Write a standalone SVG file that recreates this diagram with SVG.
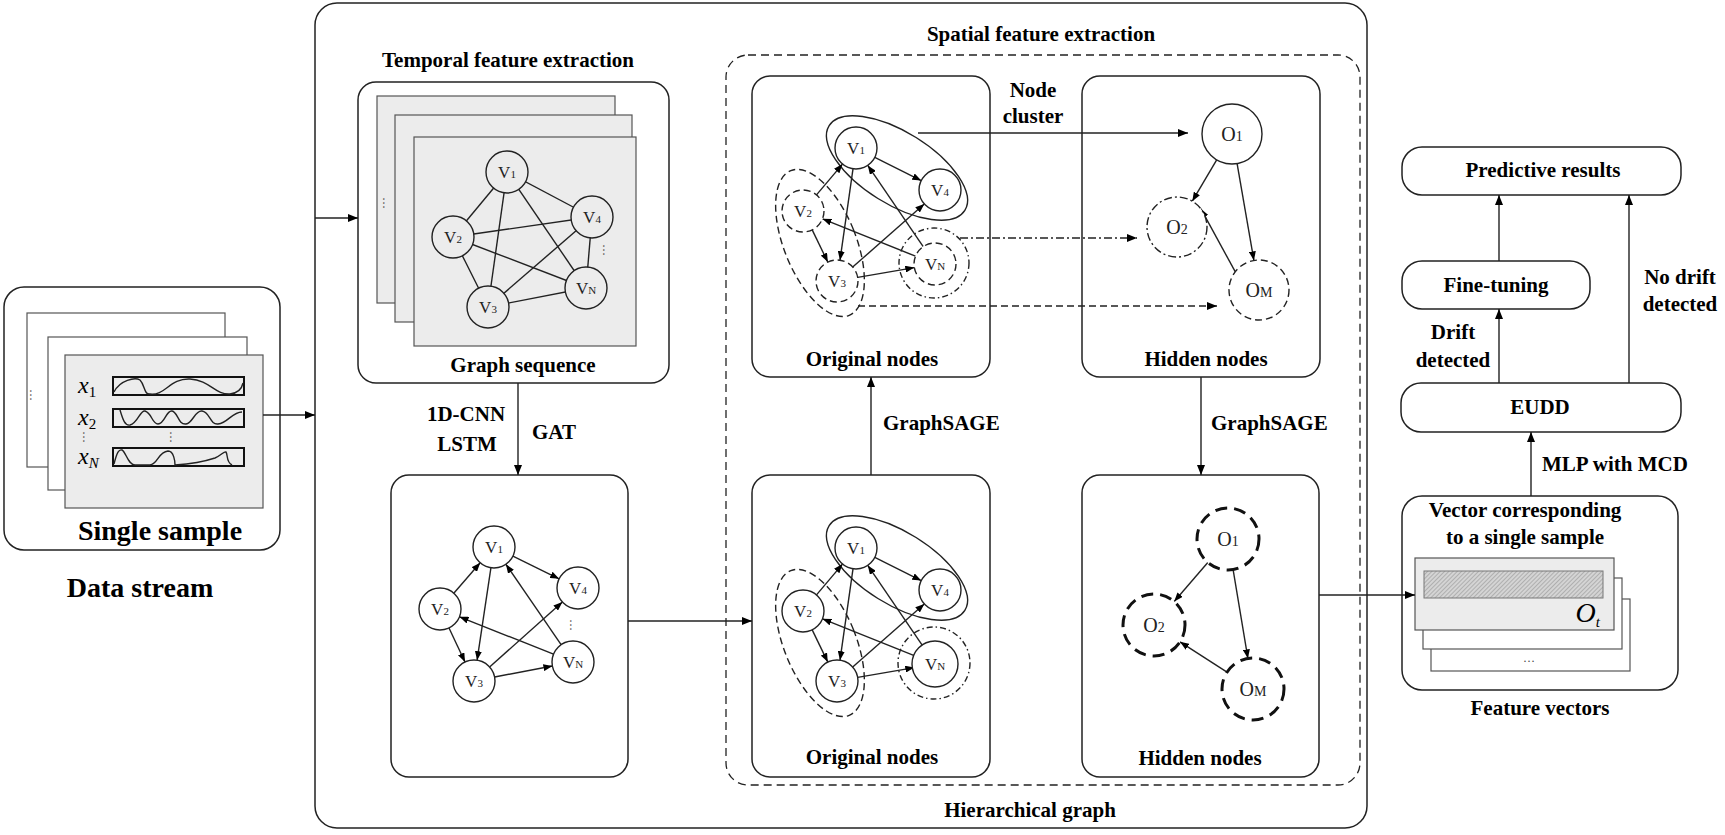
<svg xmlns="http://www.w3.org/2000/svg" width="1725" height="835" viewBox="0 0 1725 835">
<defs>
<marker id="ah" markerUnits="userSpaceOnUse" markerWidth="10" markerHeight="8" refX="10" refY="4" orient="auto"><path d="M0,0 L10,4 L0,8 z" fill="#000"/></marker>
<marker id="as" markerUnits="userSpaceOnUse" markerWidth="9" markerHeight="7" refX="9" refY="3.5" orient="auto"><path d="M0,0 L9,3.5 L0,7 z" fill="#000"/></marker>
<pattern id="hatch" patternUnits="userSpaceOnUse" width="3" height="3" patternTransform="rotate(45)"><rect width="3" height="3" fill="#d4d4d4"/><line x1="0" y1="0" x2="0" y2="3" stroke="#8a8a8a" stroke-width="1"/></pattern>
</defs>
<style>
.box{fill:#fff;stroke:#222;stroke-width:1.5}
.sheet{fill:#ececec;stroke:#555;stroke-width:1.2}
.wsheet{fill:#fff;stroke:#555;stroke-width:1.2}
.lb{font-family:"Liberation Serif",serif;font-weight:bold;font-size:21px;fill:#000;text-anchor:middle}
.ls{text-anchor:start}
.big{font-size:28px}
.nd{fill:#fff;stroke:#222;stroke-width:1.4}
.ndg{fill:#ececec;stroke:#222;stroke-width:1.4}
.nt{font-family:"Liberation Serif",serif;font-size:17px;fill:#222;text-anchor:middle}
.ot{font-size:20px}
.e{stroke:#222;stroke-width:1.4;fill:none}
.a{stroke:#222;stroke-width:1.4;fill:none;marker-end:url(#as)}
.c{stroke:#222;stroke-width:1.4;fill:none;marker-end:url(#ah)}
.dash{stroke-dasharray:7 4}
.dd{stroke-dasharray:8 3 2 3}
.xl{font-family:"Liberation Serif",serif;font-style:italic;font-size:24px;fill:#000}
.dots{font-family:"Liberation Serif",serif;font-size:12px;fill:#444;text-anchor:middle}
</style>

<g id="single-sample">
<rect class="box" x="4" y="287" width="276" height="263" rx="20"/>
<rect class="wsheet" x="27" y="313" width="198" height="154"/>
<rect class="wsheet" x="48" y="337" width="199" height="153"/>
<rect class="sheet" x="65" y="355" width="198" height="153"/>
<text class="dots" x="33" y="398" transform="rotate(90 33 395)">…</text>
<text class="xl" x="78" y="393">x<tspan font-size="15" dy="4" font-style="normal">1</tspan></text>
<text class="xl" x="78" y="425">x<tspan font-size="15" dy="4" font-style="normal">2</tspan></text>
<text class="xl" x="78" y="464">x<tspan font-size="15" dy="4" font-style="italic">N</tspan></text>
<rect x="113" y="377" width="131" height="18" fill="none" stroke="#111" stroke-width="2"/>
<rect x="113" y="409" width="131" height="18" fill="none" stroke="#111" stroke-width="2"/>
<rect x="113" y="448" width="131" height="18" fill="none" stroke="#111" stroke-width="2"/>
<path class="e" stroke-width="1" d="M114,392 C120,380 135,377 140,380 C145,385 144,395 150,394 C165,396 170,378 190,379 C210,380 215,395 230,394 C238,393 242,388 243,383"/>
<path class="e" stroke-width="1" d="M120,410 C123,420 125,426 130,425 C138,423 140,410 145,411 C152,413 152,424 158,424 C165,424 166,410 172,411 C178,412 178,425 186,424 C193,423 195,410 202,411 C210,412 210,425 218,424 C228,423 232,412 242,412"/>
<path class="e" stroke-width="1" d="M114,464 C117,452 119,449 122,450 C126,452 128,465 135,465 L150,465 C158,464 158,452 168,451 C174,451 175,462 175,465 C190,464 200,463 215,458 C222,455 224,451 226,452 C228,455 226,462 232,465"/>
<text class="dots" x="86" y="440" transform="rotate(90 86 437)">…</text>
<text class="dots" x="173" y="440" transform="rotate(90 173 437)">…</text>
<text class="lb big" x="160" y="540">Single sample</text>
</g>
<text id="data-stream" class="lb big" x="140" y="597">Data stream</text>

<g id="hierarchical">
<rect class="box" x="315" y="3" width="1052" height="825" rx="22"/>
<text class="lb" x="1030" y="817">Hierarchical graph</text>
</g>

<g id="temporal">
<text class="lb" x="508" y="67">Temporal feature extraction</text>
<rect class="box" x="358" y="82" width="311" height="301" rx="18"/>
<rect class="sheet" x="377" y="96" width="238" height="207"/>
<rect class="sheet" x="395" y="115" width="237" height="207"/>
<rect class="sheet" x="414" y="137" width="222" height="209"/>
<text class="dots" x="386" y="206" transform="rotate(90 386 203)">…</text>
<line class="e" x1="507" y1="172" x2="453" y2="237"/>
<line class="e" x1="507" y1="172" x2="592" y2="217"/>
<line class="e" x1="507" y1="172" x2="488" y2="307"/>
<line class="e" x1="507" y1="172" x2="586" y2="288"/>
<line class="e" x1="453" y1="237" x2="592" y2="217"/>
<line class="e" x1="453" y1="237" x2="586" y2="288"/>
<line class="e" x1="453" y1="237" x2="488" y2="307"/>
<line class="e" x1="488" y1="307" x2="592" y2="217"/>
<line class="e" x1="488" y1="307" x2="586" y2="288"/>
<line class="e" x1="592" y1="217" x2="586" y2="288"/>
<circle class="ndg" cx="507" cy="172" r="21"/><text class="nt" x="507" y="178">V<tspan font-size="11">1</tspan></text>
<circle class="ndg" cx="592" cy="217" r="21"/><text class="nt" x="592" y="223">V<tspan font-size="11">4</tspan></text>
<circle class="ndg" cx="453" cy="237" r="21"/><text class="nt" x="453" y="243">V<tspan font-size="11">2</tspan></text>
<circle class="ndg" cx="586" cy="288" r="21"/><text class="nt" x="586" y="294">V<tspan font-size="11">N</tspan></text>
<circle class="ndg" cx="488" cy="307" r="21"/><text class="nt" x="488" y="313">V<tspan font-size="11">3</tspan></text>
<text class="dots" x="606" y="253" transform="rotate(90 606 250)">…</text>
<text class="lb" x="523" y="372">Graph sequence</text>
</g>

<g id="gat-graph">
<rect class="box" x="391" y="475" width="237" height="302" rx="18"/>
<line class="a" x1="453.8" y1="593.2" x2="480.2" y2="562.8"/>
<line class="a" x1="512.9" y1="556.2" x2="559.1" y2="578.8"/>
<line class="a" x1="490.9" y1="567.8" x2="477.1" y2="660.2"/>
<line class="a" x1="561.1" y1="644.7" x2="505.9" y2="564.3"/>
<line class="a" x1="489.6" y1="667" x2="562.4" y2="602"/>
<line class="a" x1="553.5" y1="654.2" x2="459.5" y2="616.8"/>
<line class="a" x1="449" y1="628" x2="465" y2="662"/>
<line class="a" x1="494.6" y1="677" x2="552.4" y2="666"/>
<circle class="nd" cx="494" cy="547" r="21"/><text class="nt" x="494" y="553">V<tspan font-size="11">1</tspan></text>
<circle class="nd" cx="578" cy="588" r="21"/><text class="nt" x="578" y="594">V<tspan font-size="11">4</tspan></text>
<circle class="nd" cx="440" cy="609" r="21"/><text class="nt" x="440" y="615">V<tspan font-size="11">2</tspan></text>
<circle class="nd" cx="573" cy="662" r="21"/><text class="nt" x="573" y="668">V<tspan font-size="11">N</tspan></text>
<circle class="nd" cx="474" cy="681" r="21"/><text class="nt" x="474" y="687">V<tspan font-size="11">3</tspan></text>
<text class="dots" x="573" y="628" transform="rotate(90 573 625)">…</text>
</g>

<g id="spatial">
<rect x="726" y="55" width="634" height="730" rx="22" fill="none" stroke="#222" stroke-width="1.3" stroke-dasharray="8 5"/>
<text class="lb" x="1041" y="41">Spatial feature extraction</text>
</g>

<g id="orig-top">
<rect class="box" x="752" y="76" width="238" height="301" rx="18"/>
<ellipse class="e" cx="897" cy="168" rx="80" ry="36" transform="rotate(32 897 168)"/>
<ellipse class="e dash" cx="820" cy="243" rx="36" ry="78" transform="rotate(-22 820 243)"/>
<circle class="e" cx="934" cy="263" r="35" stroke="#666" stroke-dasharray="6 3 1.5 3"/>
<line class="a" x1="816.5" y1="194.9" x2="842.5" y2="164.1"/>
<line class="a" x1="874.8" y1="157.4" x2="921.2" y2="180.6"/>
<line class="a" x1="853" y1="168.8" x2="840" y2="260.2"/>
<line class="a" x1="923.2" y1="246.6" x2="867.8" y2="165.4"/>
<line class="a" x1="852.7" y1="267.1" x2="924.3" y2="203.9"/>
<line class="a" x1="915.5" y1="256.2" x2="822.5" y2="218.8"/>
<line class="a" x1="812.2" y1="229.9" x2="827.8" y2="262.1"/>
<line class="a" x1="857.7" y1="277.4" x2="914.3" y2="267.6"/>
<circle class="nd" cx="856" cy="148" r="21"/><text class="nt" x="856" y="154">V<tspan font-size="11">1</tspan></text>
<circle class="nd" cx="940" cy="190" r="21"/><text class="nt" x="940" y="196">V<tspan font-size="11">4</tspan></text>
<circle class="nd dash" cx="803" cy="211" r="21"/><text class="nt" x="803" y="217">V<tspan font-size="11">2</tspan></text>
<circle class="nd dash" cx="935" cy="264" r="21"/><text class="nt" x="935" y="270">V<tspan font-size="11">N</tspan></text>
<circle class="nd dash" cx="837" cy="281" r="21"/><text class="nt" x="837" y="287">V<tspan font-size="11">3</tspan></text>
<text class="lb" x="872" y="366">Original nodes</text>
</g>

<g id="hidden-top">
<rect class="box" x="1082" y="76" width="238" height="301" rx="18"/>
<line class="a" x1="1216.7" y1="159.8" x2="1192.3" y2="201.2"/>
<line class="a" x1="1237.1" y1="163.6" x2="1253.9" y2="260.4"/>
<line class="a" x1="1235.2" y1="271.7" x2="1200.8" y2="208.7"/>
<circle class="nd" cx="1232" cy="134" r="30"/><text class="nt ot" x="1232" y="141">O<tspan font-size="14">1</tspan></text>
<circle class="nd dd" cx="1177" cy="227" r="30" stroke="#444"/><text class="nt ot" x="1177" y="234">O<tspan font-size="14">2</tspan></text>
<circle class="nd dash" cx="1259" cy="290" r="30"/><text class="nt ot" x="1259" y="297">O<tspan font-size="14">M</tspan></text>
<text class="lb" x="1206" y="366">Hidden nodes</text>
</g>

<g id="orig-bottom">
<rect class="box" x="752" y="475" width="238" height="302" rx="18"/>
<ellipse class="e" cx="897" cy="568" rx="80" ry="36" transform="rotate(32 897 568)"/>
<ellipse class="e dash" cx="820" cy="643" rx="36" ry="78" transform="rotate(-22 820 643)"/>
<circle class="e" cx="934" cy="663" r="36" stroke="#666" stroke-dasharray="6 3 1.5 3"/>
<line class="a" x1="816.5" y1="594.9" x2="842.5" y2="564.1"/>
<line class="a" x1="874.8" y1="557.4" x2="921.2" y2="580.6"/>
<line class="a" x1="853" y1="568.8" x2="840" y2="660.2"/>
<line class="a" x1="923.2" y1="646.6" x2="867.8" y2="565.4"/>
<line class="a" x1="852.7" y1="667.1" x2="924.3" y2="603.9"/>
<line class="a" x1="915.5" y1="656.2" x2="822.5" y2="618.8"/>
<line class="a" x1="812.2" y1="629.9" x2="827.8" y2="662.1"/>
<line class="a" x1="857.7" y1="677.4" x2="914.3" y2="667.6"/>
<circle class="nd" cx="856" cy="548" r="21"/><text class="nt" x="856" y="554">V<tspan font-size="11">1</tspan></text>
<circle class="nd" cx="940" cy="590" r="21"/><text class="nt" x="940" y="596">V<tspan font-size="11">4</tspan></text>
<circle class="nd" cx="803" cy="611" r="21"/><text class="nt" x="803" y="617">V<tspan font-size="11">2</tspan></text>
<circle class="nd" cx="935" cy="664" r="23"/><text class="nt" x="935" y="670">V<tspan font-size="11">N</tspan></text>
<circle class="nd" cx="837" cy="681" r="21"/><text class="nt" x="837" y="687">V<tspan font-size="11">3</tspan></text>
<text class="lb" x="872" y="764">Original nodes</text>
</g>

<g id="hidden-bottom">
<rect class="box" x="1082" y="475" width="237" height="302" rx="18"/>
<line class="a" x1="1207.8" y1="562.5" x2="1174.2" y2="601.5"/>
<line class="a" x1="1233.1" y1="569.6" x2="1247.9" y2="658.4"/>
<line class="a" x1="1227" y1="672.2" x2="1180" y2="641.8"/>
<circle cx="1228" cy="539" r="31" fill="#fff" stroke="#111" stroke-width="3" stroke-dasharray="12 7"/><text class="nt ot" x="1228" y="546">O<tspan font-size="14">1</tspan></text>
<circle cx="1154" cy="625" r="31" fill="#fff" stroke="#111" stroke-width="3" stroke-dasharray="12 7"/><text class="nt ot" x="1154" y="632">O<tspan font-size="14">2</tspan></text>
<circle cx="1253" cy="689" r="31" fill="#fff" stroke="#111" stroke-width="3" stroke-dasharray="12 7"/><text class="nt ot" x="1253" y="696">O<tspan font-size="14">M</tspan></text>
<text class="lb" x="1200" y="765">Hidden nodes</text>
</g>

<g id="predictive"><rect class="box" x="1402" y="147" width="279" height="48" rx="20"/><text class="lb" x="1543" y="177">Predictive results</text></g>
<g id="finetuning"><rect class="box" x="1402" y="261" width="188" height="48" rx="20"/><text class="lb" x="1496" y="292">Fine-tuning</text></g>
<g id="eudd"><rect class="box" x="1401" y="383" width="280" height="49" rx="20"/><text class="lb" x="1540" y="414">EUDD</text></g>
<g id="feature-vectors">
<rect class="box" x="1402" y="496" width="276" height="194" rx="20"/>
<text class="lb" x="1525" y="517">Vector corresponding</text>
<text class="lb" x="1525" y="544">to a single sample</text>
<rect class="wsheet" x="1431" y="599" width="199" height="72"/>
<rect class="wsheet" x="1423" y="578" width="199" height="71"/>
<rect class="sheet" x="1415" y="558" width="199" height="72"/>
<rect x="1424" y="571" width="179" height="27" fill="url(#hatch)" stroke="#777" stroke-width="1"/>
<text x="1600" y="622" font-family="Liberation Serif,serif" font-style="italic" font-size="28" text-anchor="end">O<tspan font-size="15" dy="5">t</tspan></text>
<text class="dots" x="1529" y="662">…</text>
<text class="lb" x="1540" y="715">Feature vectors</text>
</g>

<g id="connectors">
<line class="c" x1="263" y1="415" x2="315" y2="415"/>
<line class="c" x1="315" y1="218" x2="358" y2="218"/>
<line class="c" x1="518" y1="383" x2="518" y2="475"/>
<line class="c" x1="628" y1="621" x2="752" y2="621"/>
<line class="c" x1="871" y1="475" x2="871" y2="377"/>
<line class="c" x1="1201" y1="377" x2="1201" y2="475"/>
<line class="c" x1="918" y1="133" x2="1188" y2="133"/>
<line class="c dd" x1="960" y1="238" x2="1137" y2="238" stroke="#444"/>
<line class="c dash" x1="858" y1="306" x2="1217" y2="306"/>
<line class="c" x1="1319" y1="595" x2="1415" y2="595"/>
<line class="c" x1="1531" y1="496" x2="1531" y2="432"/>
<line class="c" x1="1499" y1="383" x2="1499" y2="309"/>
<line class="c" x1="1499" y1="261" x2="1499" y2="195"/>
<line class="c" x1="1629" y1="383" x2="1629" y2="195"/>
<text class="lb" x="466" y="421">1D-CNN</text>
<text class="lb" x="467" y="451">LSTM</text>
<text class="lb" x="554" y="439">GAT</text>
<text class="lb" x="1033" y="97">Node</text>
<text class="lb" x="1033" y="123">cluster</text>
<text class="lb ls" x="883" y="430">GraphSAGE</text>
<text class="lb ls" x="1211" y="430">GraphSAGE</text>
<text class="lb" x="1453" y="339">Drift</text>
<text class="lb" x="1453" y="367">detected</text>
<text class="lb" x="1680" y="284">No drift</text>
<text class="lb" x="1680" y="311">detected</text>
<text class="lb ls" x="1542" y="471">MLP with MCD</text>
</g>
</svg>
